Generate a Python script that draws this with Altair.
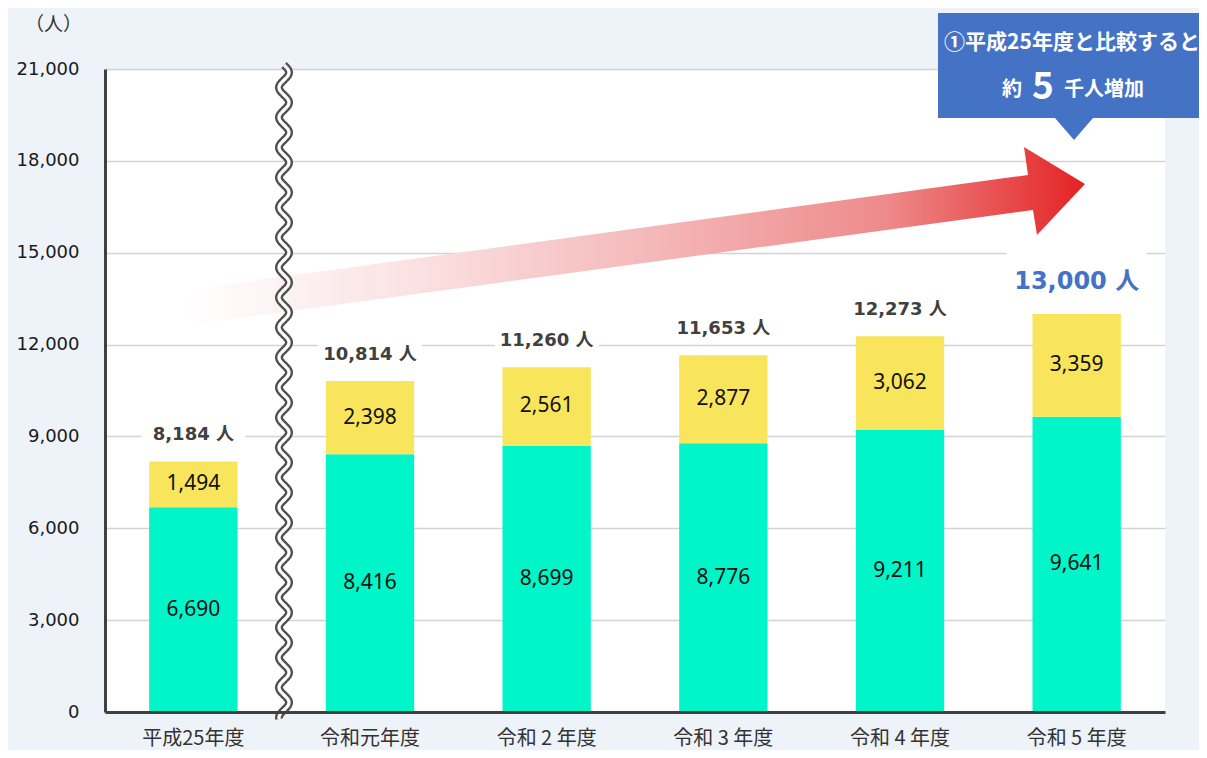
import math
import altair as alt
import pandas as pd

# ---------------- data ----------------
categories = ["平成25年度", "令和元年度", "令和 2 年度", "令和 3 年度", "令和 4 年度", "令和 5 年度"]
lower_vals = [6690, 8416, 8699, 8776, 9211, 9641]
upper_vals = [1494, 2398, 2561, 2877, 3062, 3359]
series_names = ["下段", "上段"]
series_colors = ["#00F5C9", "#F9E55C"]
y_ticks = [0, 3000, 6000, 9000, 12000, 15000, 18000, 21000]
unit = "人"
y_unit_title = "（人）"
callout_line1 = "①平成25年度と比較すると"
callout_pre = "約"
callout_num = "5"
callout_post = "千人増加"

rows = []
for c, lo, up in zip(categories, lower_vals, upper_vals):
    rows.append({"cat": c, "series": series_names[0], "ord": 0, "value": lo})
    rows.append({"cat": c, "series": series_names[1], "ord": 1, "value": up})
df = pd.DataFrame(rows)
totals = [lo + up for lo, up in zip(lower_vals, upper_vals)]
tot_df = pd.DataFrame({"cat": categories, "total": totals,
                       "label": [f"{t:,} {unit}" for t in totals]})
tot_reg = tot_df.iloc[:-1]
tot_last = tot_df.iloc[-1:]

W, H = 1060, 643
NUM_FONT = "DejaVu Sans, Noto Sans CJK JP"
CJK_FONT = "Noto Sans CJK JP"

X = alt.X("cat:N", sort=categories,
          scale=alt.Scale(paddingInner=0.5, paddingOuter=0.25),
          axis=alt.Axis(title=None, labelAngle=0, labelFont=CJK_FONT, labelFontSize=20,
                        labelColor="#333333", labelPadding=16, ticks=False,
                        domainColor="#404040", domainWidth=3, zindex=1))
YSCALE = alt.Scale(domain=[0, 21000], nice=False, zero=True)


def yax():
    return alt.Axis(values=y_ticks, format=",.0f", labelFont="DejaVu Sans",
                    labelFontSize=18, labelColor="#1a1a1a", labelPadding=26,
                    ticks=False, grid=True, gridColor="#D3D3D3", gridWidth=1.3,
                    domainColor="#404040", domainWidth=3,
                    title=y_unit_title, titleAngle=0, titleX=-52, titleY=-45,
                    titleAlign="center", titleBaseline="middle", titleFont=CJK_FONT,
                    titleFontSize=19, titleFontWeight="normal", titleColor="#333333")


bars = alt.Chart(df).mark_bar().encode(
    x=X, y=alt.Y("value:Q", stack="zero", scale=YSCALE, axis=yax()),
    color=alt.Color("series:N", scale=alt.Scale(domain=series_names, range=series_colors), legend=None),
    order=alt.Order("ord:Q", sort="ascending"),
)

seg_labels = alt.Chart(df).transform_stack(
    stack="value", as_=["v0", "v1"], groupby=["cat"], sort=[alt.SortField("ord", order="ascending")]
).transform_calculate(mid="(datum.v0 + datum.v1) / 2").mark_text(
    font="Noto Sans, Noto Sans CJK JP", fontSize=21, color="#111111", baseline="middle"
).encode(x=X, y=alt.Y("mid:Q", scale=YSCALE, axis=yax()), text=alt.Text("value:Q", format=","))

box_reg = alt.Chart(tot_reg).mark_point(
    shape="M-52,-12L52,-12L52,12L-52,12Z", size=4, filled=True, fill="white",
    strokeWidth=0, opacity=1, yOffset=-26
).encode(x=X, y=alt.Y("total:Q", scale=YSCALE, axis=yax()))

box_last = alt.Chart(tot_last).mark_point(
    shape="M-70,-30L70,-30L70,30L-70,30Z", size=4, filled=True, fill="white",
    strokeWidth=0, opacity=1, yOffset=-32
).encode(x=X, y=alt.Y("total:Q", scale=YSCALE, axis=yax()))

tot_labels = alt.Chart(tot_reg).mark_text(
    font=NUM_FONT, fontSize=18, fontWeight="bold", color="#404040", baseline="middle", dy=-26
).encode(x=X, y=alt.Y("total:Q", scale=YSCALE, axis=yax()), text="label:N")

tot_last_label = alt.Chart(tot_last).mark_text(
    font=NUM_FONT, fontSize=24, fontWeight="bold", color="#4472C4", baseline="middle", dy=-32
).encode(x=X, y=alt.Y("total:Q", scale=YSCALE, axis=yax()), text="label:N")


# ---------------- decorations (pixel paths relative to plot origin) ----------------
def deco(path, **kw):
    return alt.Chart(alt.Data(values=[{"d": 0}])).mark_point(
        shape=path, size=4, opacity=1, **kw
    ).encode(x=alt.value(0), y=alt.value(0))


def text_at(txt, x, y, **kw):
    return alt.Chart(alt.Data(values=[{"d": 0}])).mark_text(
        text=txt, baseline="middle", align="center", **kw
    ).encode(x=alt.value(x), y=alt.value(y))


arrow_path = "M80,221L923,106L919,78L980,115L932,166L928,141L83,256Z"
arrow_grad = {
    "gradient": "linear", "x1": 0, "y1": 0, "x2": 1, "y2": 0,
    "stops": [
        {"offset": 0.0, "color": "#FFFFFF"},
        {"offset": 0.25, "color": "#FBE2E3"},
        {"offset": 0.5, "color": "#F5BBBC"},
        {"offset": 0.78, "color": "#EE8A8B"},
        {"offset": 1.0, "color": "#E42223"},
    ],
}
arrow = deco(arrow_path, filled=True, fill=arrow_grad, strokeWidth=0)


def wave_path(cx, y0, y1, amp, period):
    pts = []
    n = int(y1 - y0)
    for i in range(n + 1):
        yy = y0 + i
        xx = cx + amp * math.sin(2 * math.pi * i / period)
        pts.append(f"{xx:.2f},{yy:.2f}")
    return "M" + "L".join(pts)


wp = wave_path(179, -4, 650, 5, 30)
wave_dark = deco(wp, filled=False, stroke="#505050", strokeWidth=8, strokeCap="butt")
wave_light = deco(wp, filled=False, stroke="#FFFFFF", strokeWidth=3.2, strokeCap="butt")

callout_path = "M833,-56L1110,-56L1110,49L988,49L969,71L950,49L833,49Z"
callout = deco(callout_path, filled=True, fill="#4472C4", strokeWidth=0)
c1 = text_at(callout_line1, 967, -26, font=CJK_FONT, fontSize=21, fontWeight="bold", color="white")
c2 = text_at(callout_pre, 907, 21, font=CJK_FONT, fontSize=20, fontWeight="bold", color="white")
c3 = text_at(callout_num, 938, 19, font=CJK_FONT, fontSize=37, fontWeight="bold", color="white")
c4 = text_at(callout_post, 999, 21, font=CJK_FONT, fontSize=20, fontWeight="bold", color="white")

chart = alt.layer(
    bars, seg_labels, box_reg, box_last, tot_labels, tot_last_label,
    arrow, wave_dark, wave_light, callout, c1, c2, c3, c4
).properties(
    width=W, height=H,
    padding={"left": 97, "top": 61, "right": 34, "bottom": 38},
    autosize=alt.AutoSizeParams(type="none"),
).configure(background="#EEF2F9").configure_view(fill="white", stroke=None)

chart.save("out.html", embed_options={"renderer": "svg", "actions": False})
